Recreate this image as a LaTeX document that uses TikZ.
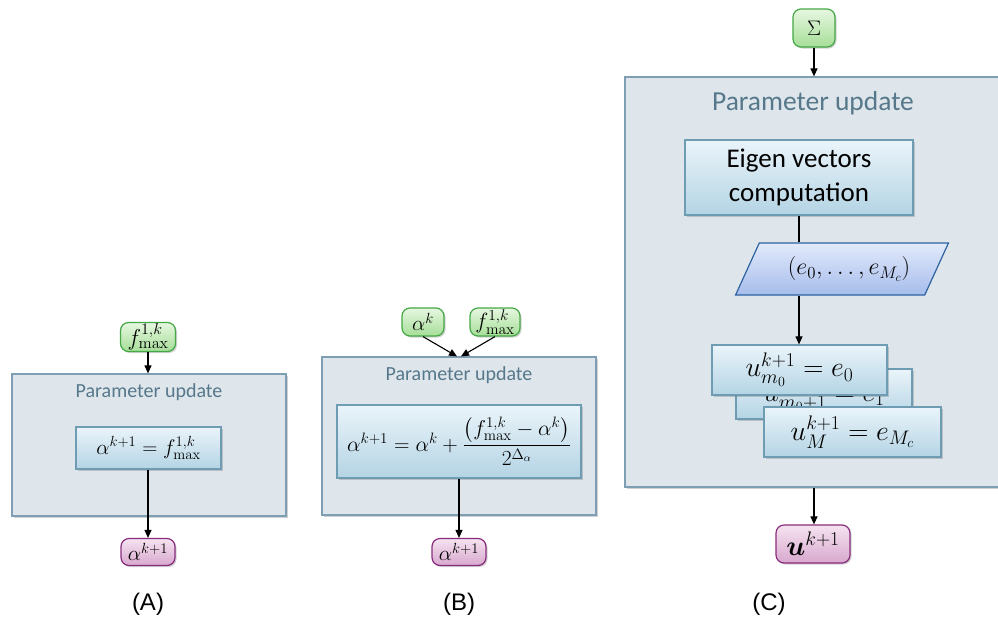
\RequirePackage{fix-cm}
\documentclass[tikz,border=0pt]{standalone}
\usepackage{amsmath,bm}
\usepackage[no-math]{fontspec}
\setmainfont{Carlito}
\newfontfamily\capfont{Liberation Sans}
\usetikzlibrary{arrows.meta,shapes.geometric,shadows,calc}
\definecolor{outerfill}{HTML}{DEE6EC}
\definecolor{outerdraw}{HTML}{7E9FB3}
\definecolor{titlecol}{HTML}{56788A}
\definecolor{innertop}{HTML}{EAF4FA}
\definecolor{innerbot}{HTML}{B4D4E4}
\definecolor{innerdraw}{HTML}{6E9CB3}
\definecolor{greentop}{HTML}{E6F7E0}
\definecolor{greenbot}{HTML}{A6DE98}
\definecolor{greendraw}{HTML}{44A845}
\definecolor{purptop}{HTML}{F5E3F0}
\definecolor{purpbot}{HTML}{D8A8CE}
\definecolor{purpdraw}{HTML}{8A2C7E}
\definecolor{paratop}{HTML}{E2EAFB}
\definecolor{parabot}{HTML}{A6BCEB}
\definecolor{paradraw}{HTML}{2E62A0}
\tikzset{
  shd/.style={drop shadow={shadow xshift=1.5pt,shadow yshift=-1.5pt,opacity=0.3,fill=black!60}},
  outerbox/.style={draw=outerdraw,fill=outerfill,line width=1.2pt,inner sep=0pt,shd},
  innerbox/.style={draw=innerdraw,top color=innertop,bottom color=innerbot,line width=1.2pt,inner sep=0pt,shd,font=\fontsize{21}{24}\selectfont},
  title/.style={text=titlecol,inner sep=0pt},
  innode/.style={draw=greendraw,top color=greentop,bottom color=greenbot,line width=1.2pt,rounded corners=8pt,inner sep=0pt,shd,font=\fontsize{21}{24}\selectfont},
  outnode/.style={draw=purpdraw,top color=purptop,bottom color=purpbot,line width=1.2pt,rounded corners=8pt,inner sep=0pt,shd,font=\fontsize{21}{24}\selectfont},
  arr/.style={-{Triangle[length=8pt,width=7pt]},line width=1.1pt,black},
  ln/.style={line width=1.1pt,black},
  caplabel/.style={font=\capfont\fontsize{24}{28}\selectfont,inner sep=0pt}
}
\begin{document}
\begin{tikzpicture}[x=1pt,y=-1pt]
\useasboundingbox (0,0) rectangle (998,619);
% ---------- Panel A ----------
\node[outerbox,minimum width=274pt,minimum height=142pt] (Aout) at (149,445) {};
\node[title,font=\fontsize{20}{24}\selectfont] (Atitle) at (149,392) {Parameter update};
\node[innerbox,minimum width=145pt,minimum height=42pt] (Ain) at (148.5,448) {$\alpha^{k+1}=f^{1,k}_{\max}$};
\node[innode,minimum width=55pt,minimum height=29pt,font=\fontsize{23}{26}\selectfont] (Af) at (148,337) {$f^{1,k}_{\max}$};
\node[outnode,minimum width=54pt,minimum height=27pt] (Aa) at (148,552) {$\alpha^{k+1}$};
\draw[arr] (Af) -- (Aout.north -| Af);
\draw[arr] (Ain.south -| Aa) -- (Aa.north);
\node[caplabel] (Alab) at (148,604) {(A)};
% ---------- Panel B ----------
\node[outerbox,minimum width=274pt,minimum height=158pt] (Bout) at (459,436) {};
\node[title,font=\fontsize{20}{24}\selectfont] (Btitle) at (459,375) {Parameter update};
\node[innerbox,minimum width=244pt,minimum height=73pt,font=\fontsize{21.5}{24}\selectfont] (Bin) at (459,441.5) {$\alpha^{k+1}=\alpha^{k}+\dfrac{\bigl(f^{1,k}_{\max}-\alpha^{k}\bigr)}{2^{\Delta_\alpha}}$};
\node[innode,minimum width=42pt,minimum height=28pt] (Bak) at (423,322) {$\alpha^{k}$};
\node[innode,minimum width=50pt,minimum height=28pt,font=\fontsize{22}{26}\selectfont] (Bf) at (495,322) {$f^{1,k}_{\max}$};
\node[outnode,minimum width=54pt,minimum height=27pt] (Ba) at (459,552) {$\alpha^{k+1}$};
\coordinate (Bjoin) at (Bout.north);
\draw[arr] (Bak.south) -- ($(Bjoin)+(-2,0)$);
\draw[arr] (Bf.south) -- ($(Bjoin)+(2,0)$);
\draw[arr] (Bin.south -| Ba) -- (Ba.north);
\node[caplabel] (Blab) at (459,604) {(B)};
% ---------- Panel C ----------
\node[outerbox,minimum width=378pt,minimum height=410pt] (Cout) at (814,282) {};
\node[title,font=\fontsize{27.5}{32}\selectfont] (Ctitle) at (813,103) {Parameter update};
\node[innerbox,minimum width=228pt,minimum height=75pt,align=center,font=\fontsize{27}{34}\selectfont] (Ceig) at (799,177.5) {Eigen vectors\\computation};
\node[trapezium,trapezium left angle=51,trapezium right angle=129,trapezium stretches=true,
      draw=paradraw,top color=paratop,bottom color=parabot,line width=1.2pt,inner sep=0pt,
      minimum width=213pt,minimum height=52pt,font=\fontsize{24}{26}\selectfont] (Cpar) at (842,269) {\hspace*{14pt}$(e_0,\dots,e_{M_c})$};
\node[innerbox,minimum width=176pt,minimum height=50pt,font=\fontsize{28}{30}\selectfont] (Cb2) at (824,394) {$u^{k+1}_{m_0+1}=e_1$};
\node[innerbox,minimum width=177pt,minimum height=50pt,font=\fontsize{28}{30}\selectfont] (Cb3) at (852.5,432) {$u^{k+1}_{M}=e_{M_c}$};
\node[innerbox,minimum width=175pt,minimum height=50pt,font=\fontsize{28}{30}\selectfont] (Cb1) at (799.5,370) {$u^{k+1}_{m_0}=e_0$};
\node[innode,minimum width=42pt,minimum height=38pt,font=\fontsize{21}{24}\selectfont] (Cs) at (814,28) {$\Sigma$};
\node[outnode,minimum width=74pt,minimum height=38pt,font=\fontsize{28}{30}\selectfont] (Cu) at (813,544) {$\bm{u}^{k+1}$};
\draw[arr] (Cs) -- (Cout.north -| Cs);
\draw[ln] (Ceig.south) -- (Ceig.south |- Cpar.north);
\draw[arr] (Ceig.south |- Cpar.south) -- (Cb1.north -| Ceig.south);
\draw[arr] (Cout.south -| Cs) -- (Cu.north -| Cs);
\node[caplabel] (Clab) at (769,604) {(C)};
\end{tikzpicture}
\end{document}
